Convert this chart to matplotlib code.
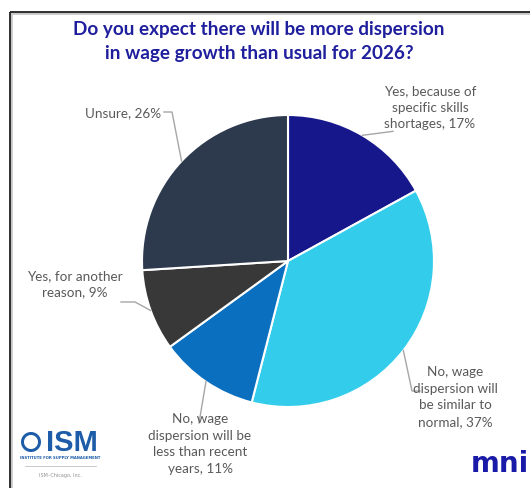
import numpy as np
import matplotlib.pyplot as plt
from matplotlib.patches import Rectangle, Wedge

# Survey answers, clockwise from 12 o'clock
labels = [
    "Yes, because of\nspecific skills\nshortages",
    "No, wage\ndispersion will\nbe similar to\nnormal",
    "No, wage\ndispersion will be\nless than recent\nyears",
    "Yes, for another\nreason",
    "Unsure",
]
shares = [17, 37, 11, 9, 26]
colors = ["#17178c", "#33cdeb", "#0a6fbe", "#383838", "#2d394d"]

W, H = 530, 489
fig = plt.figure(figsize=(W / 100, H / 100), dpi=100)
ax = fig.add_axes([0, 0, 1, 1])
ax.set_xlim(0, W)
ax.set_ylim(H, 0)
ax.set_aspect("equal")
ax.axis("off")

# outer frame (runs off the right and bottom edges)
ax.add_patch(Rectangle((11, 14), 600, 600, fill=False, ec="#c8c8c8", lw=2.0))
ax.add_patch(Rectangle((9.5, 12.5), 600, 600, fill=False, ec="#202020", lw=1.3))

title_col = "#1f1f9e"
ax.text(259, 29, "Do you expect there will be more dispersion", ha="center",
        va="center", fontsize=13.6, fontweight="bold", color=title_col, family="Lato")
ax.text(259, 54, "in wage growth than usual for 2026?", ha="center",
        va="center", fontsize=13.6, fontweight="bold", color=title_col, family="Lato")

cx, cy, r = 288, 262, 146
# y axis points down, so go clockwise by increasing angle in screen terms
start = -90.0
mids = []
for share, col in zip(shares, colors):
    sweep = 360 * share / sum(shares)
    ax.add_patch(Wedge((cx, cy), r, start, start + sweep, fc=col, ec="white", lw=1.5))
    mids.append(np.radians(start + sweep / 2))
    start += sweep

edge = [(cx + r * np.cos(a), cy + r * np.sin(a)) for a in mids]

txt_col = "#595959"
line_col = "#a6a6a6"
texts = [f"{lab}, {s}%" for lab, s in zip(labels, shares)]
text_pos = [(430, 108), (455, 397), (200, 444), (75, 284), (123, 113)]
elbows = [
    [(393, edge[0][1] - 4)],
    [(412, 392), (420, 392)],
    [(199, 424)],
    [(135, 303), (121, 303)],
    [(172, 113), (164, 113)],
]

for txt, (tx, ty), e, pts in zip(texts, text_pos, edge, elbows):
    ax.text(tx, ty, txt, ha="center", va="center", fontsize=9.7, color=txt_col,
            family="Lato", linespacing=1.45)
    xs = [e[0]] + [p[0] for p in pts]
    ys = [e[1]] + [p[1] for p in pts]
    ax.plot(xs, ys, color=line_col, lw=1.0, zorder=1)

# ISM logo
ax.text(72, 443, "ISM", ha="center", va="center", fontsize=21, fontweight="bold",
        color="#1c5ca8", family="Liberation Sans")
ax.add_patch(Wedge((31, 443), 10, 0, 360, width=3, fc="#1c5ca8", ec="none"))
ax.text(60, 458, "INSTITUTE FOR SUPPLY MANAGEMENT", ha="center", va="center",
        fontsize=2.7, fontweight="bold", color="#1c5ca8")
ax.plot([25, 96], [467, 467], color="#c0c0c0", lw=0.6)
ax.text(60, 475, "ISM\u2013Chicago, Inc.", ha="center", va="center", fontsize=3.5,
        color="#909090")

# mni logo
ax.text(500, 464, "mni", ha="center", va="center", fontsize=20, fontweight="bold",
        color="#1a1aa8", family="DejaVu Sans")

fig.savefig("out.png", dpi=100, facecolor="white")
